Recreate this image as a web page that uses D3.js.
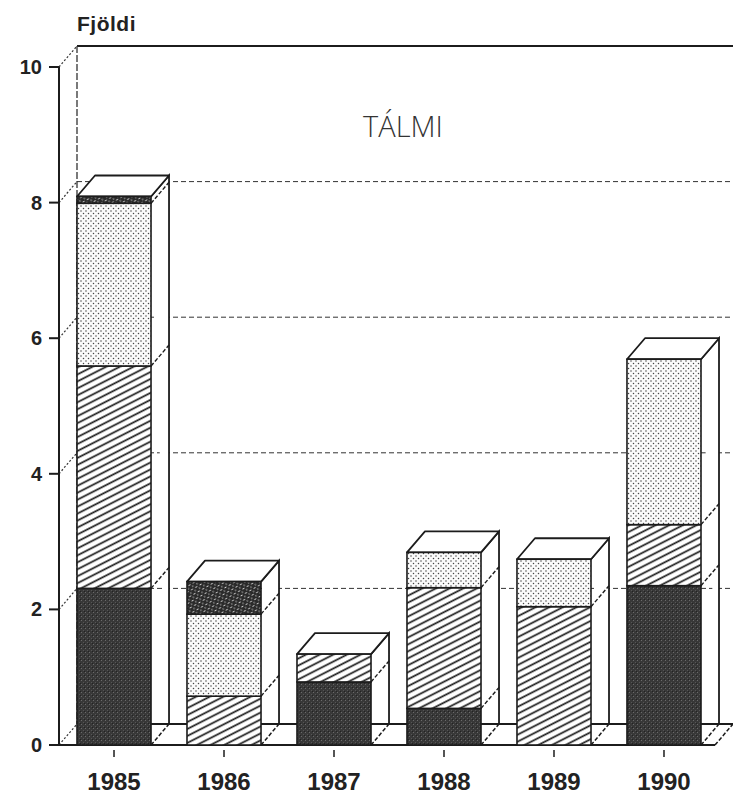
<!DOCTYPE html>
<html>
<head>
<meta charset="utf-8">
<script src="https://cdn.jsdelivr.net/npm/d3@7"></script>
<style>
  body { margin: 0; background: #fff; }
  svg { display: block; }
  text { font-family: "Liberation Sans", Arial, sans-serif; }
</style>
</head>
<body>
<div id="chart"></div>
<script>
// values (Fjöldi per year)
const years = ["1985", "1986", "1987", "1988", "1989", "1990"];
const darkVals    = [2.31, 0,    0.93, 0.54, 0,    2.35];
const hatchVals   = [3.28, 0.72, 0.41, 1.78, 2.04, 0.90];
const dotVals     = [2.40, 1.21, 0,    0.52, 0.70, 2.44];
const crossVals   = [0.10, 0.48, 0,    0,    0,    0];
const yTicks = [0, 2, 4, 6, 8, 10];
const gridVals = [2, 4, 6, 8];

const width = 733, height = 796;
const dx = 18, dy = -21;   // depth of the 3d look
const ink = "#1c1c1c";

const keys = ["dark", "hatch", "dots", "cross"];
const table = years.map((yr, i) => ({
  year: yr, dark: darkVals[i], hatch: hatchVals[i], dots: dotVals[i], cross: crossVals[i]
}));
const series = d3.stack().keys(keys)(table);

const y = d3.scaleLinear().domain([0, 10]).range([745, 67]);
const x = d3.scaleBand().domain(years).range([59, 719]).paddingInner(0.327).paddingOuter(0.1636);
const bw = x.bandwidth();

const svg = d3.select("#chart").append("svg").attr("width", width).attr("height", height);
const defs = svg.append("defs");

// patterns for the four kinds of fill
let p = defs.append("pattern").attr("id", "dark").attr("patternUnits", "userSpaceOnUse")
  .attr("width", 4).attr("height", 4);
p.append("rect").attr("width", 4).attr("height", 4).attr("fill", "#383838");
p.append("rect").attr("x", 1).attr("y", 0).attr("width", 1).attr("height", 1).attr("fill", "#6a6a6a");
p.append("rect").attr("x", 3).attr("y", 2).attr("width", 1).attr("height", 1).attr("fill", "#555");
p.append("rect").attr("x", 0).attr("y", 3).attr("width", 1).attr("height", 1).attr("fill", "#222");

p = defs.append("pattern").attr("id", "hatch").attr("patternUnits", "userSpaceOnUse")
  .attr("width", 10).attr("height", 6.2).attr("patternTransform", "rotate(-27)");
p.append("rect").attr("width", 10).attr("height", 6.2).attr("fill", "#fff");
p.append("line").attr("x1", 0).attr("x2", 10).attr("y1", 3).attr("y2", 3)
  .attr("stroke", ink).attr("stroke-width", 1.7);

p = defs.append("pattern").attr("id", "dots").attr("patternUnits", "userSpaceOnUse")
  .attr("width", 5).attr("height", 5);
p.append("rect").attr("width", 5).attr("height", 5).attr("fill", "#fbfbfb");
p.append("circle").attr("cx", 1).attr("cy", 1).attr("r", 0.75).attr("fill", "#444");
p.append("circle").attr("cx", 3.5).attr("cy", 3.5).attr("r", 0.75).attr("fill", "#444");

p = defs.append("pattern").attr("id", "cross").attr("patternUnits", "userSpaceOnUse")
  .attr("width", 5).attr("height", 5).attr("patternTransform", "rotate(-30)");
p.append("rect").attr("width", 5).attr("height", 5).attr("fill", "#2a2a2a");
p.append("rect").attr("x", 0.5).attr("y", 1).attr("width", 2).attr("height", 1).attr("fill", "#ddd");
p.append("rect").attr("x", 3).attr("y", 3.5).attr("width", 1.5).attr("height", 1).attr("fill", "#bbb");

const x0 = 59, xBack = x0 + dx, xRight = 733;

// back wall
svg.append("line").attr("x1", xBack).attr("x2", xRight).attr("y1", y(10) + dy).attr("y2", y(10) + dy)
  .attr("stroke", ink).attr("stroke-width", 2);
svg.append("line").attr("x1", xBack).attr("x2", xBack).attr("y1", y(10) + dy).attr("y2", y(0) + dy)
  .attr("stroke", "#333").attr("stroke-width", 1.3).attr("stroke-dasharray", "7,2");

// dashed grid lines on back wall
svg.selectAll(".grid").data(gridVals).enter().append("line")
  .attr("x1", xBack).attr("x2", 731)
  .attr("y1", d => y(d) + dy).attr("y2", d => y(d) + dy)
  .attr("stroke", "#333").attr("stroke-width", 1).attr("stroke-dasharray", "5,3");

// dotted lines across the left wall
svg.selectAll(".side").data(yTicks).enter().append("line")
  .attr("x1", x0).attr("y1", d => y(d))
  .attr("x2", xBack).attr("y2", d => y(d) + dy)
  .attr("stroke", "#333").attr("stroke-width", 1.2).attr("stroke-dasharray", "2,2");

// floor
svg.append("line").attr("x1", xBack).attr("x2", xRight).attr("y1", y(0) + dy).attr("y2", y(0) + dy)
  .attr("stroke", ink).attr("stroke-width", 1.8);
svg.append("line").attr("x1", x0).attr("x2", 715).attr("y1", y(0)).attr("y2", y(0))
  .attr("stroke", ink).attr("stroke-width", 2);
svg.append("line").attr("x1", 715).attr("x2", 715 + dx).attr("y1", y(0)).attr("y2", y(0) + dy)
  .attr("stroke", ink).attr("stroke-width", 1.5).attr("stroke-dasharray", "4,2");

// y axis
svg.append("line").attr("x1", x0).attr("x2", x0).attr("y1", y(10)).attr("y2", y(0))
  .attr("stroke", ink).attr("stroke-width", 2);
svg.selectAll(".ytick").data(yTicks).enter().append("line")
  .attr("x1", x0 - 10).attr("x2", x0).attr("y1", d => y(d)).attr("y2", d => y(d))
  .attr("stroke", ink).attr("stroke-width", 2);
svg.selectAll(".ylab").data(yTicks).enter().append("text")
  .attr("x", 42).attr("y", d => y(d) + 7)
  .attr("text-anchor", "end").attr("font-size", 20).attr("font-weight", "bold").attr("fill", "#222")
  .text(d => d);

// bars
const bars = svg.selectAll(".bar").data(years).enter().append("g");
const total = i => series[series.length - 1][i][1];

// right side face
bars.append("path")
  .attr("d", (d, i) => {
    const xr = x(d) + bw, yt = y(total(i));
    return `M${xr},${yt}L${xr + dx},${yt + dy}L${xr + dx},${y(0) + dy}`;
  })
  .attr("fill", "#fff").attr("stroke", ink).attr("stroke-width", 1.8);
bars.append("line")
  .attr("x1", d => x(d) + bw).attr("y1", y(0))
  .attr("x2", d => x(d) + bw + dx).attr("y2", y(0) + dy)
  .attr("stroke", ink).attr("stroke-width", 1.5).attr("stroke-dasharray", "4,2");
// top face
bars.append("path")
  .attr("d", (d, i) => {
    const xl = x(d), yt = y(total(i));
    return `M${xl},${yt}L${xl + dx},${yt + dy}L${xl + bw + dx},${yt + dy}L${xl + bw},${yt}Z`;
  })
  .attr("fill", "#fff").attr("stroke", ink).attr("stroke-width", 1.8).attr("stroke-linejoin", "round");

// front faces, one rect per stacked piece
series.forEach(s => {
  svg.selectAll(".seg-" + s.key).data(s.filter(v => v[1] - v[0] > 0)).enter().append("rect")
    .attr("x", v => x(v.data.year))
    .attr("y", v => y(v[1]))
    .attr("width", bw)
    .attr("height", v => y(v[0]) - y(v[1]))
    .attr("fill", "url(#" + s.key + ")")
    .attr("stroke", ink).attr("stroke-width", 1.6);
  // dashed edge on the side face where pieces meet
  svg.selectAll(".edge-" + s.key).data(s.filter(v => v[1] - v[0] > 0 && v[0] > 0)).enter().append("line")
    .attr("x1", v => x(v.data.year) + bw).attr("y1", v => y(v[0]))
    .attr("x2", v => x(v.data.year) + bw + dx).attr("y2", v => y(v[0]) + dy)
    .attr("stroke", ink).attr("stroke-width", 1.4).attr("stroke-dasharray", "4,2");
});

// x ticks and labels
svg.selectAll(".xtick").data(years).enter().append("line")
  .attr("x1", d => x(d) + bw / 2).attr("x2", d => x(d) + bw / 2)
  .attr("y1", 750).attr("y2", 757)
  .attr("stroke", ink).attr("stroke-width", 1.5);
svg.selectAll(".xlab").data(years).enter().append("text")
  .attr("x", d => x(d) + bw / 2).attr("y", 790)
  .attr("text-anchor", "middle").attr("font-size", 24).attr("font-weight", "bold").attr("fill", "#222")
  .text(d => d);

// titles
svg.append("text").attr("x", 77).attr("y", 31)
  .attr("font-size", 21).attr("font-weight", "bold").attr("letter-spacing", 0.5).attr("fill", "#222")
  .text("Fjöldi");
svg.append("text").attr("x", 403).attr("y", 137)
  .attr("text-anchor", "middle").attr("font-size", 29).attr("fill", "#333")
  .attr("style", "font-family:'Open Sans','Liberation Sans',sans-serif;font-weight:300")
  .text("TÁLMI");
</script>
</body>
</html>
